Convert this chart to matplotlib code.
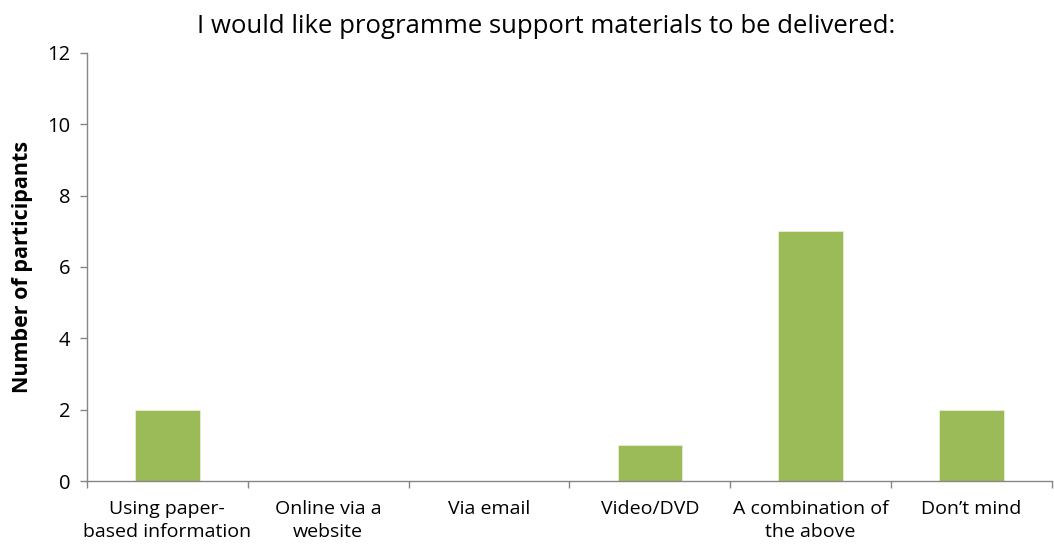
import matplotlib
matplotlib.use("Agg")
import matplotlib.pyplot as plt
import numpy as np

categories = [
    "Using paper-\nbased information",
    "Online via a\nwebsite",
    "Via email",
    "Video/DVD",
    "A combination of\nthe above",
    "Don\u2019t mind",
]
participants = [2, 0, 0, 1, 7, 2]
y_ticks = [0, 2, 4, 6, 8, 10, 12]

title = "I would like programme support materials to be delivered:"
y_label = "Number of participants"

plt.rcParams["font.family"] = ["Open Sans", "DejaVu Sans"]

axis_grey = "#868686"
bar_green = "#9BBB59"

fig = plt.figure(figsize=(10.54, 5.45), dpi=100)
ax = fig.add_axes([0.0825, 0.1174, 0.9155, 0.7854])

x = np.arange(len(categories))
ax.bar(x, participants, width=0.4, color=bar_green, edgecolor="#e6eed8", linewidth=0.6, zorder=2)

ax.set_xlim(-0.5, len(categories) - 0.5)
ax.set_ylim(0, 12)
ax.set_yticks(y_ticks)
ax.set_yticklabels([str(v) for v in y_ticks], fontsize=14.5)

# category ticks sit on the boundaries, labels centred under each bar
ax.set_xticks(np.arange(len(categories) + 1) - 0.5)
ax.set_xticklabels([])
ax.set_xticks(x, minor=True)
ax.set_xticklabels(categories, minor=True, fontsize=14, linespacing=1.32)
ax.tick_params(axis="x", which="minor", length=0, pad=14)
ax.tick_params(axis="x", which="major", length=5, color=axis_grey, width=1)
ax.tick_params(axis="y", length=5, color=axis_grey, width=1, pad=7)

for side in ("top", "right"):
    ax.spines[side].set_visible(False)
for side in ("left", "bottom"):
    ax.spines[side].set_color(axis_grey)
    ax.spines[side].set_linewidth(1)

ax.set_ylabel(y_label, fontsize=15.5, fontweight="bold", labelpad=10)
fig.text(0.5185, 0.951, title, ha="center", va="center", fontsize=18.5)

fig.savefig("out.png", dpi=100, facecolor="white")
